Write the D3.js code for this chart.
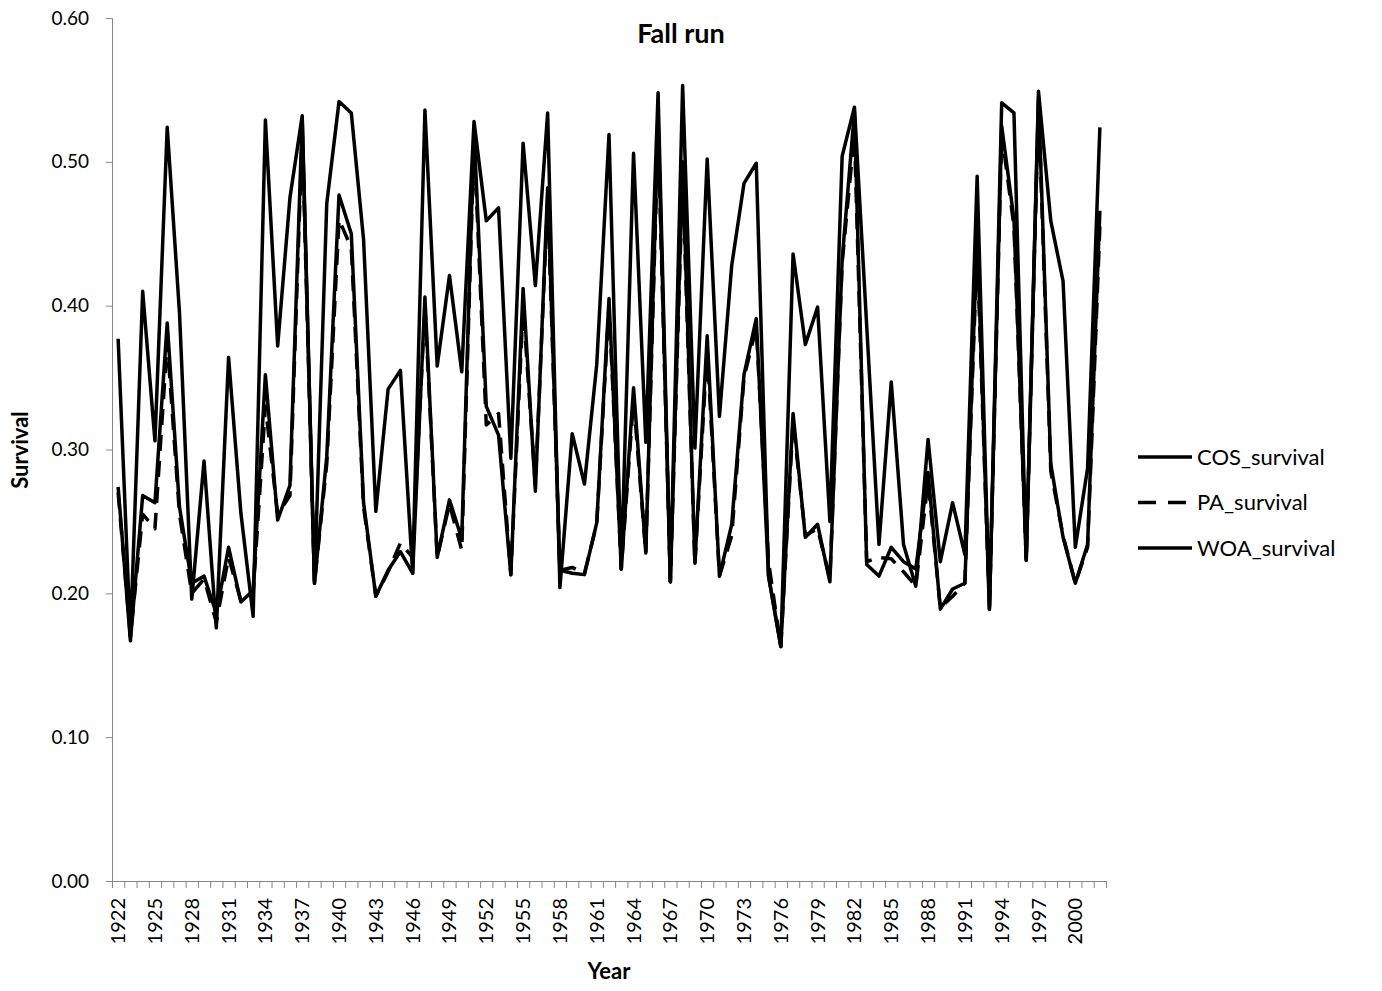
<!DOCTYPE html>
<html>
<head>
<meta charset="utf-8">
<script src="https://cdn.jsdelivr.net/npm/d3@7"></script>
<style>
  body { margin: 0; background: #fff; }
  svg { font-family: Lato, "Open Sans", sans-serif; }
</style>
</head>
<body>
<script>
// Categories
const years = d3.range(1922, 2003);

// Series values
const cosSurvival = [
  0.377, 0.170, 0.410, 0.306, 0.524, 0.395, 0.196, 0.292, 0.176, 0.364,
  0.256, 0.184, 0.529, 0.372, 0.475, 0.532, 0.207, 0.471, 0.542, 0.534,
  0.446, 0.257, 0.342, 0.355, 0.214, 0.536, 0.358, 0.421, 0.354, 0.528,
  0.459, 0.468, 0.294, 0.513, 0.414, 0.534, 0.204, 0.311, 0.276, 0.359,
  0.519, 0.217, 0.506, 0.305, 0.548, 0.208, 0.553, 0.301, 0.502, 0.323,
  0.428, 0.485, 0.499, 0.212, 0.163, 0.436, 0.373, 0.399, 0.250, 0.504,
  0.538, 0.386, 0.234, 0.347, 0.234, 0.205, 0.307, 0.222, 0.263, 0.227,
  0.490, 0.189, 0.541, 0.534, 0.223, 0.549, 0.459, 0.417, 0.232, 0.287,
  0.524
];
const paSurvival = [
  0.270, 0.170, 0.255, 0.245, 0.375, 0.255, 0.200, 0.210, 0.180, 0.225,
  0.195, 0.200, 0.330, 0.255, 0.268, 0.520, 0.207, 0.290, 0.460, 0.440,
  0.260, 0.198, 0.215, 0.235, 0.225, 0.400, 0.225, 0.262, 0.230, 0.515,
  0.317, 0.325, 0.213, 0.400, 0.275, 0.475, 0.216, 0.218, 0.214, 0.248,
  0.400, 0.217, 0.335, 0.228, 0.520, 0.208, 0.490, 0.220, 0.370, 0.212,
  0.240, 0.350, 0.385, 0.222, 0.163, 0.320, 0.240, 0.245, 0.210, 0.430,
  0.520, 0.222, 0.225, 0.224, 0.215, 0.205, 0.278, 0.190, 0.198, 0.207,
  0.440, 0.189, 0.520, 0.455, 0.223, 0.540, 0.285, 0.240, 0.207, 0.232,
  0.455
];
const woaSurvival = [
  0.274, 0.167, 0.268, 0.263, 0.388, 0.260, 0.207, 0.212, 0.186, 0.232,
  0.194, 0.202, 0.352, 0.251, 0.275, 0.530, 0.207, 0.295, 0.477, 0.450,
  0.263, 0.198, 0.216, 0.229, 0.214, 0.406, 0.225, 0.265, 0.238, 0.522,
  0.330, 0.310, 0.213, 0.412, 0.271, 0.482, 0.216, 0.214, 0.213, 0.249,
  0.405, 0.217, 0.343, 0.228, 0.530, 0.208, 0.500, 0.221, 0.379, 0.212,
  0.248, 0.352, 0.391, 0.212, 0.163, 0.325, 0.239, 0.248, 0.208, 0.432,
  0.535, 0.220, 0.212, 0.232, 0.222, 0.217, 0.284, 0.189, 0.203, 0.207,
  0.450, 0.189, 0.525, 0.460, 0.223, 0.545, 0.290, 0.239, 0.207, 0.234,
  0.466
];

const yTicks = [0, 0.1, 0.2, 0.3, 0.4, 0.5, 0.6];

const series = [
  {name: "COS_survival", values: cosSurvival, dash: null},
  {name: "PA_survival", values: paSurvival, dash: "16,10"},
  {name: "WOA_survival", values: woaSurvival, dash: null}
];

const width = 1382, height = 991;
const margin = {top: 18, right: 276, bottom: 110, left: 112};
const axisColor = "#868686";

const svg = d3.select("body").append("svg")
    .attr("width", width)
    .attr("height", height);

const x = d3.scaleBand()
    .domain(years)
    .range([margin.left, width - margin.right]);

const xEdge = d3.scaleLinear()
    .domain([0, years.length])
    .range([margin.left, width - margin.right]);

const y = d3.scaleLinear()
    .domain([0, 0.6])
    .range([height - margin.bottom, margin.top]);

// y axis
const yAxis = svg.append("g")
    .attr("transform", `translate(${margin.left},0)`)
    .call(d3.axisLeft(y).tickValues(yTicks).tickFormat(d3.format(".2f"))
        .tickSize(6).tickPadding(17));
yAxis.select(".domain").attr("stroke", axisColor);
yAxis.selectAll(".tick line").attr("stroke", axisColor);
yAxis.selectAll(".tick text")
    .attr("font-size", 19)
    .attr("font-family", "Lato, sans-serif")
    .attr("fill", "#000");

// x axis: ticks between categories
const xTicks = svg.append("g")
    .attr("transform", `translate(0,${height - margin.bottom})`)
    .call(d3.axisBottom(xEdge).tickValues(d3.range(0, years.length + 1))
        .tickFormat("").tickSize(7).tickSizeOuter(0));
xTicks.select(".domain").attr("stroke", axisColor);
xTicks.selectAll(".tick line").attr("stroke", axisColor);

// x labels every 3rd year
const xLabels = svg.append("g")
    .attr("transform", `translate(0,${height - margin.bottom})`)
    .call(d3.axisBottom(x).tickValues(years.filter((d, i) => i % 3 === 0))
        .tickSize(0).tickPadding(0));
xLabels.select(".domain").remove();
xLabels.selectAll(".tick text")
    .attr("font-size", 20)
    .attr("font-family", "Lato, sans-serif")
    .attr("fill", "#000")
    .attr("text-anchor", "end")
    .attr("dy", "0.35em")
    .attr("transform", "translate(0,17) rotate(-90)");

// lines
const line = d3.line()
    .x((d, i) => x(years[i]) + x.bandwidth() / 2)
    .y(d => y(d));

svg.append("g")
    .selectAll("path")
    .data(series)
    .join("path")
    .attr("d", d => line(d.values))
    .attr("fill", "none")
    .attr("stroke", "#000")
    .attr("stroke-width", 3.5)
    .attr("stroke-linejoin", "round")
    .attr("stroke-dasharray", d => d.dash);

// title
svg.append("text")
    .attr("x", 681)
    .attr("y", 43)
    .attr("text-anchor", "middle")
    .attr("font-size", 27)
    .attr("font-weight", "bold")
    .text("Fall run");

// axis titles
svg.append("text")
    .attr("x", 609)
    .attr("y", 979)
    .attr("text-anchor", "middle")
    .attr("font-size", 22)
    .attr("font-weight", "bold")
    .text("Year");

svg.append("text")
    .attr("transform", "translate(28,450) rotate(-90)")
    .attr("text-anchor", "middle")
    .attr("font-size", 22)
    .attr("font-weight", "bold")
    .text("Survival");

// legend
const legend = svg.append("g")
    .selectAll("g")
    .data(series)
    .join("g")
    .attr("transform", (d, i) => `translate(1138,${457 + i * 45.5})`);

legend.append("line")
    .attr("x1", 0).attr("x2", 54)
    .attr("stroke", "#000")
    .attr("stroke-width", 3.5)
    .attr("stroke-dasharray", d => d.dash ? "18,12" : null);

legend.append("text")
    .attr("x", 59)
    .attr("dy", "0.35em")
    .attr("font-size", 22)
    .text(d => d.name);
</script>
</body>
</html>
